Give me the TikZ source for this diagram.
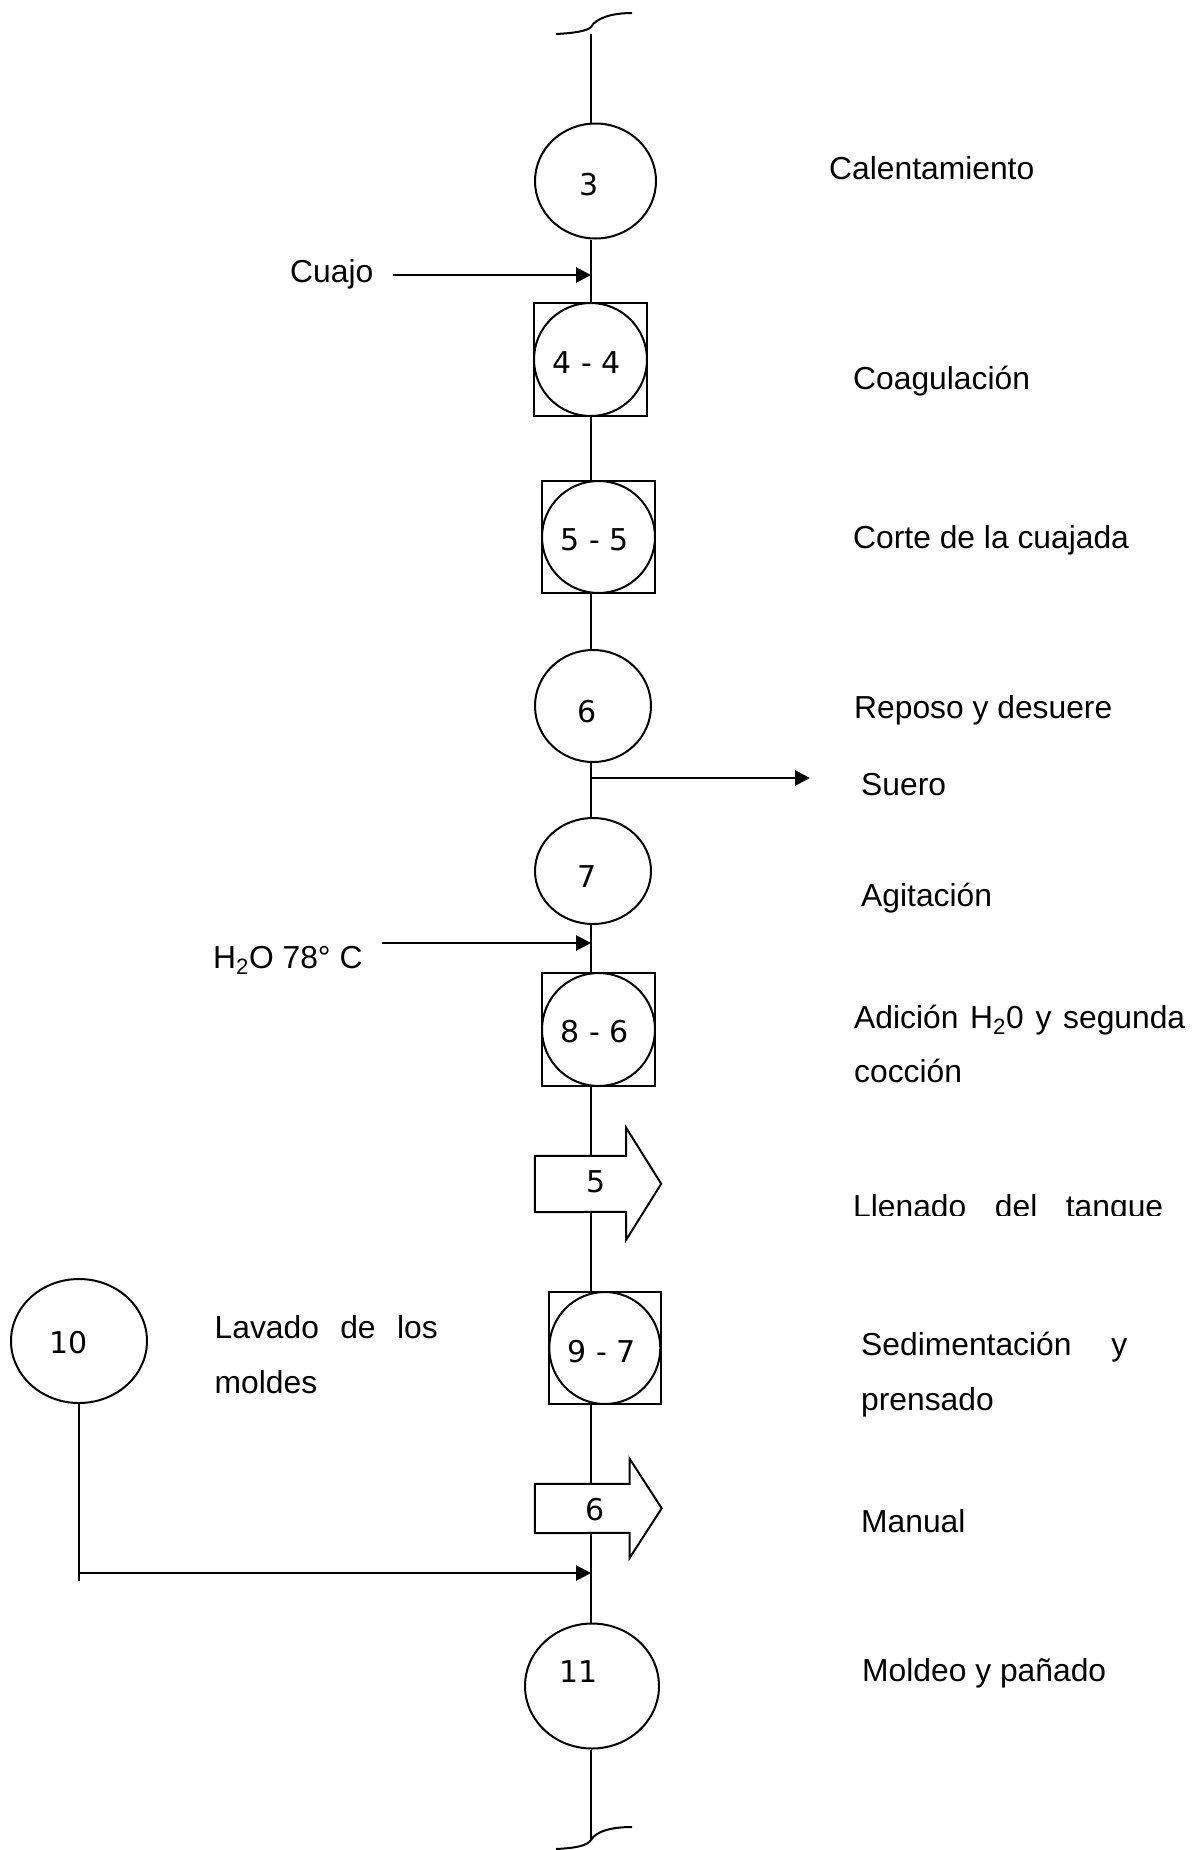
\documentclass[tikz,border=0pt]{standalone}
\usepackage{fontspec}
\setmainfont{Liberation Sans}
\newfontfamily\numfont{DejaVu Sans}
\usetikzlibrary{arrows.meta,shapes.geometric}
\begin{document}
\begin{tikzpicture}[x=1pt,y=-1pt,
  flow/.style={line width=2pt},
  feed/.style={line width=2.8pt,-{Triangle[length=15pt,width=15pt]}},
  oper/.style={draw,line width=2pt,ellipse,fill=white,inner sep=0pt},
  insp/.style={draw,line width=2pt,rectangle,fill=white,inner sep=0pt,minimum width=113pt,minimum height=113pt},
  tran/.style={draw=none,rectangle,inner sep=0pt},
  tranline/.style={line width=2pt,fill=white},
  num/.style={font=\numfont\fontsize{30pt}{36pt}\selectfont,inner sep=0pt},
  lbl/.style={font=\fontsize{31.8pt}{38pt}\selectfont,inner sep=0pt,anchor=base west},
]
\fill[white] (0,0) rectangle (1204,1850);
\useasboundingbox (0,0) rectangle (1204,1850);

% ---- shapes on the main line ----
\node[oper,minimum width=121pt,minimum height=115pt] (c3) at (595.5,181) {};
\node[num] (t3) at (589,185) {3};

\node[insp] (b44) at (590.5,359.5) {};
\node[oper,minimum width=113pt,minimum height=113pt] (e44) at (590.5,359.5) {};
\node[num] (t44) at (587,363) {4 - 4};

\node[insp,minimum height=112pt] (b55) at (598.5,537) {};
\node[oper,minimum width=113pt,minimum height=112pt] (e55) at (598.5,537) {};
\node[num] (t55) at (595,540) {5 - 5};

\node[oper,minimum width=116pt,minimum height=112pt] (c6) at (593,706) {};
\node[num] (t6) at (587,712) {6};

\node[oper,minimum width=116pt,minimum height=106pt] (c7) at (593,871) {};
\node[num] (t7) at (587,877) {7};

\node[insp] (b86) at (598.5,1029.5) {};
\node[oper,minimum width=113pt,minimum height=113pt] (e86) at (598.5,1029.5) {};
\node[num] (t86) at (595,1032) {8 - 6};

\node[tran,minimum width=91pt,minimum height=56pt] (a5) at (580.5,1184) {};
\draw[tranline] (a5.north west) -- (a5.north east) -- ++(0pt,28pt) -- ++(35pt,-56pt)
   -- ++(-35pt,-56pt) -- ++(0pt,28pt) -- (a5.south west) -- cycle;
\node[num] (t5) at (596,1182) {5};

\node[insp,minimum width=112pt,minimum height=112pt] (b97) at (605.3,1348) {};
\node[oper,minimum width=111pt,minimum height=112pt] (e97) at (604.8,1348) {};
\node[num] (t97) at (602,1352) {9 - 7};

\node[tran,minimum width=94.5pt,minimum height=49pt] (a6) at (582.25,1508.5) {};
\draw[tranline] (a6.north west) -- (a6.north east) -- ++(0pt,25pt) -- ++(32pt,-49.5pt)
   -- ++(-32pt,-49.5pt) -- ++(0pt,25pt) -- (a6.south west) -- cycle;
\node[num] (t6b) at (595,1510) {6};

\node[oper,minimum width=134pt,minimum height=125pt] (c11) at (592,1686) {};
\node[num] (t11) at (579,1672) {11};

\node[oper,minimum width=136pt,minimum height=124pt] (c10) at (79,1341) {};
\node[num] (t10) at (69,1343) {10};

% ---- main line ----
\coordinate (top) at (591,34);
\coordinate (bot) at (591,1840);
\draw[flow] (top) -- (top |- c3.north);
\draw[flow] (top |- c3.south) -- (top |- b44.north);
\draw[flow] (top |- b44.south) -- (top |- b55.north);
\draw[flow] (top |- b55.south) -- (top |- c6.north);
\draw[flow] (top |- c6.south) -- (top |- c7.north);
\draw[flow] (top |- c7.south) -- (top |- b86.north);
\draw[flow] (top |- b86.south) -- (top |- a5.north);
\draw[flow] (top |- a5.south) -- (top |- b97.north);
\draw[flow] (top |- b97.south) -- (top |- a6.north);
\draw[flow] (top |- a6.south) -- (top |- c11.north);
\draw[flow] (top |- c11.south) -- (bot);

% break marks
\draw[flow] (556,34) .. controls (575,33) and (587,31) .. (591,27)
   .. controls (596,18) and (612,13) .. (632,13);
\draw[flow] (556,1849) .. controls (575,1848) and (587,1846) .. (591,1840)
   .. controls (596,1831) and (612,1827) .. (632,1827);

% ---- side streams ----
\coordinate (cuajoS) at (393,275);
\coordinate (cuajoE) at (591,275);
\draw[feed] (cuajoS) -- (cuajoE);

\coordinate (sueroS) at (591,778);
\coordinate (sueroE) at (810,778);
\draw[feed] (sueroS) -- (sueroE);

\coordinate (aguaS) at (382,943);
\coordinate (aguaE) at (591,943);
\draw[feed] (aguaS) -- (aguaE);

\coordinate (tenB) at (79,1581);
\coordinate (tenA) at (79,1573);
\coordinate (tenE) at (591,1573);
\draw[flow] (c10.south) -- (tenB);
\draw[feed] (tenA) -- (tenE);

% ---- texts ----
\node[lbl] (l1) at (829,179) {Calentamiento};
\node[lbl] (l2) at (853,389) {Coagulación};
\node[lbl] (l3) at (853,548) {Corte de la cuajada};
\node[lbl] (l4) at (854,718) {Reposo y desuere};
\node[lbl] (l5) at (861,795) {Suero};
\node[lbl] (l6) at (861,906) {Agitación};
\node[lbl] (l7) at (854,1028) {\makebox[331pt][s]{Adición H\textsubscript{2}0 y segunda}};
\node[lbl] (l8) at (854,1082) {cocción};
\begin{scope}
\clip (840,1180) rectangle (1204,1215);
\node[lbl] (l9) at (853,1217) {\makebox[310pt][s]{Llenado del tanque}};
\end{scope}
\node[lbl] (l10) at (861,1355) {\makebox[266pt][s]{Sedimentación y}};
\node[lbl] (l11) at (861,1410) {prensado};
\node[lbl] (l12) at (861,1532) {Manual};
\node[lbl] (l13) at (862,1681) {Moldeo y pañado};
\node[lbl] (l14) at (290,282) {Cuajo};
\node[lbl] (l15) at (213,968) {H\textsubscript{2}O 78° C};
\node[lbl] (l16) at (214.5,1338) {\makebox[223pt][s]{Lavado de los}};
\node[lbl] (l17) at (214.5,1393) {moldes};
\end{tikzpicture}
\end{document}
